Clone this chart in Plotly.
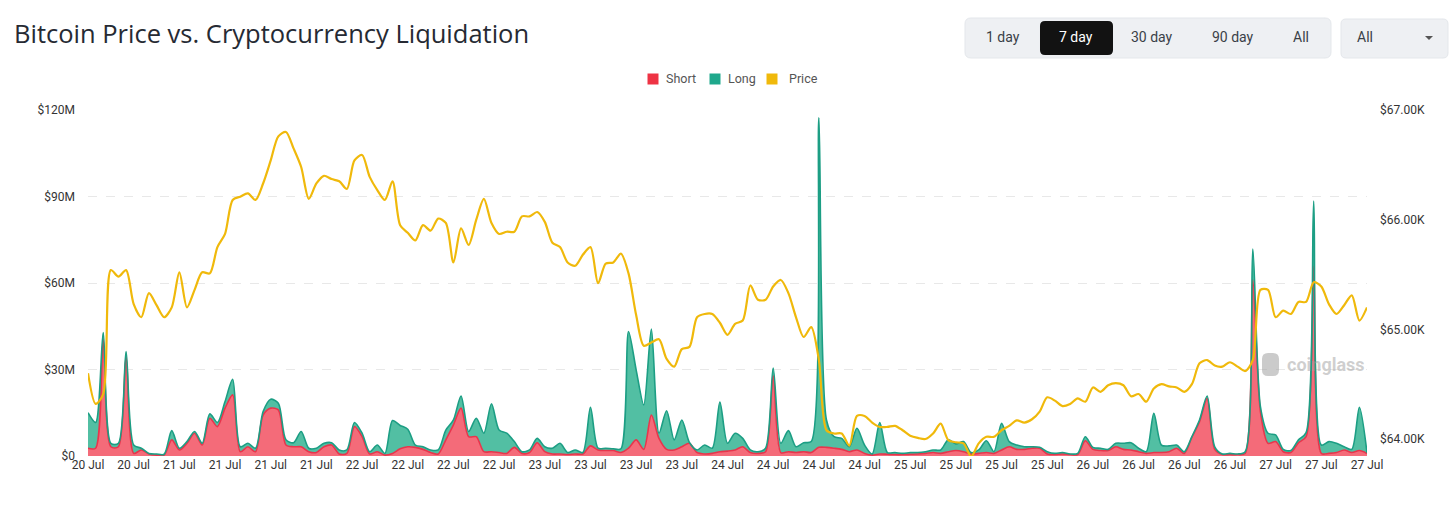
import plotly.graph_objects as go

# ---------------- data (hourly, 20 Jul 12:00 -> 27 Jul 12:00) ----------------
hours = list(range(169))

short_liq_musd = [
    2.7, 2.7, 40.3, 3.2, 3.2, 34.5, 0.9, 2.1, 0.7, 0.3,
    0.3, 5.6, 2.1, 4.4, 7.9, 3.8, 13.1, 10.2, 16.6, 21.2,
    1.5, 3.2, 1.5, 14.2, 16.6, 16.0, 3.8, 3.2, 3.2, 1.5,
    1.2, 3.2, 3.8, 0.7, 0.9, 10.2, 6.7, 0.7, 1.5, 0.3,
    0.9, 2.5, 3.2, 3.0, 2.3, 1.2, 0.7, 5.6, 10.8, 16.6,
    6.7, 6.7, 1.5, 1.5, 1.2, 0.9, 3.0, 0.9, 1.2, 4.6,
    1.5, 0.7, 0.7, 0.5, 0.7, 0.7, 3.5, 2.1, 1.9, 1.9,
    1.2, 2.7, 5.6, 2.3, 14.2, 6.1, 2.3, 2.1, 3.2, 4.4,
    1.2, 0.7, 0.9, 1.5, 1.7, 2.1, 3.2, 1.2, 0.9, 1.5,
    27.8, 1.2, 1.5, 1.2, 1.5, 1.2, 3.0, 3.0, 2.7, 2.3,
    1.5, 2.1, 0.9, 0.3, 0.7, 0.6, 0.5, 0.5, 0.6, 0.7,
    0.9, 1.2, 0.9, 1.5, 1.9, 1.5, 0.7, 0.9, 1.2, 0.9,
    2.1, 3.2, 2.3, 2.3, 2.7, 2.7, 0.7, 0.5, 0.7, 0.5,
    0.5, 5.3, 2.3, 1.9, 1.9, 3.2, 2.3, 2.1, 1.5, 0.9,
    1.2, 1.2, 1.5, 2.7, 0.9, 6.5, 11.9, 20.0, 2.3, 0.5,
    0.5, 0.5, 0.9, 61.1, 15.4, 4.4, 5.0, 1.5, 1.2, 4.6,
    6.7, 65.8, 0.9, 0.9, 1.2, 2.1, 1.2, 1.9, 0.9,
]

long_liq_musd = [
    12.3, 8.9, 2.5, 1.2, 1.2, 1.7, 2.9, 0.6, 0.2, 0.4,
    0.3, 3.2, 0.6, 0.6, 0.6, 0.6, 1.5, 1.4, 2.3, 5.4,
    1.7, 1.2, 1.2, 1.2, 3.1, 2.3, 1.8, 1.4, 5.3, 1.2,
    1.5, 1.2, 0.8, 1.4, 1.2, 1.4, 1.2, 0.8, 2.3, 0.6,
    11.4, 8.1, 6.1, 0.8, 0.9, 0.9, 1.4, 3.4, 1.7, 4.2,
    1.8, 6.4, 6.4, 16.6, 7.8, 7.0, 2.0, 0.6, 0.9, 1.5,
    1.7, 2.0, 3.7, 0.7, 1.4, 0.5, 13.4, 0.6, 0.8, 0.6,
    1.3, 40.5, 24.3, 15.4, 29.8, 1.8, 13.4, 3.5, 9.3, 0.3,
    0.9, 3.1, 1.8, 17.2, 2.7, 5.8, 2.9, 0.9, 0.6, 1.2,
    2.7, 3.2, 7.3, 2.0, 3.1, 3.8, 114.3, 9.5, 4.0, 3.8,
    1.7, 7.5, 2.9, 0.4, 10.9, 0.6, 0.7, 0.4, 0.6, 0.5,
    0.6, 0.9, 1.2, 4.1, 2.3, 3.5, 0.5, 1.2, 4.1, 0.6,
    9.2, 1.8, 1.5, 0.9, 0.5, 0.3, 0.8, 0.4, 0.5, 0.2,
    0.4, 1.4, 0.7, 0.8, 0.4, 1.2, 2.1, 2.5, 1.2, 0.6,
    13.6, 2.6, 2.0, 1.1, 0.6, 0.2, 0.6, 0.8, 0.9, 0.2,
    0.4, 0.2, 0.6, 10.7, 1.7, 3.5, 2.3, 0.8, 0.7, 1.0,
    1.4, 22.6, 2.9, 4.1, 3.2, 1.1, 1.1, 15.0, 0.2,
]

btc_price_k = [
    64.60, 64.32, 64.41, 65.54, 65.48, 65.54, 65.23, 65.11, 65.33, 65.22,
    65.11, 65.20, 65.52, 65.20, 65.36, 65.52, 65.51, 65.75, 65.87, 66.18,
    66.21, 66.24, 66.18, 66.33, 66.54, 66.76, 66.80, 66.65, 66.48, 66.19,
    66.33, 66.40, 66.37, 66.35, 66.28, 66.54, 66.59, 66.39, 66.27, 66.18,
    66.35, 65.95, 65.88, 65.81, 65.95, 65.90, 66.01, 65.97, 65.61, 65.92,
    65.77, 66.00, 66.19, 65.97, 65.87, 65.89, 65.89, 66.03, 66.03, 66.07,
    65.98, 65.79, 65.75, 65.61, 65.58, 65.68, 65.75, 65.42, 65.60, 65.61,
    65.69, 65.51, 65.13, 64.85, 64.88, 64.91, 64.73, 64.66, 64.82, 64.84,
    65.11, 65.14, 65.14, 65.06, 64.95, 65.05, 65.08, 65.40, 65.27, 65.27,
    65.39, 65.45, 65.33, 65.11, 64.93, 65.02, 64.72, 64.08, 64.05, 64.05,
    63.94, 64.21, 64.21, 64.15, 64.11, 64.11, 64.12, 64.08, 64.03, 64.01,
    64.00, 64.05, 64.14, 63.99, 63.97, 63.96, 63.84, 63.96, 64.02, 64.02,
    64.08, 64.12, 64.17, 64.15, 64.18, 64.25, 64.38, 64.35, 64.30, 64.32,
    64.37, 64.34, 64.47, 64.43, 64.49, 64.51, 64.49, 64.39, 64.41, 64.34,
    64.46, 64.50, 64.48, 64.47, 64.43, 64.50, 64.69, 64.72, 64.67, 64.66,
    64.70, 64.66, 64.62, 64.72, 65.36, 65.36, 65.11, 65.17, 65.14, 65.25,
    65.25, 65.43, 65.39, 65.23, 65.14, 65.22, 65.31, 65.08, 65.20,
]

x_tick_hours = list(range(0, 169, 6))
x_tick_labels = (["20 Jul"] * 2 + ["21 Jul"] * 4 + ["22 Jul"] * 4 + ["23 Jul"] * 4 +
                 ["24 Jul"] * 4 + ["25 Jul"] * 4 + ["26 Jul"] * 4 + ["27 Jul"] * 3)

left_tick_vals = [0, 30, 60, 90, 120]
left_tick_text = ["$0", "$30M", "$60M", "$90M", "$120M"]
right_tick_vals = [64, 65, 66, 67]
right_tick_text = ["$64.00K", "$65.00K", "$66.00K", "$67.00K"]

series_names = ["Short", "Long", "Price"]
range_buttons = ["1 day", "7 day", "30 day", "90 day", "All"]
selected_button = "7 day"

# ---------------- styling ----------------
W, H = 1456, 507
PL, PR, PT, PB = 88, 1367, 110, 456  # plot area in pixels
FONT = "Roboto"
SHORT_LINE, SHORT_FILL = "#e8354c", "#f46b79"
LONG_LINE, LONG_FILL = "#1c9e84", "#52bfa3"
PRICE_COLOR = "#f0b90b"
LEGEND_SWATCH = ["#ee3344", "#1fa88c", "#f0b90b"]
LEGEND_SQ_X = [653, 715, 772]


def pp(x, y):
    return (x - PL) / (PR - PL), (PB - y) / (PB - PT)


def rrect(x0, y0, x1, y1, r):
    def P(x, y):
        a, b = pp(x, y)
        return f"{a:.5f},{b:.5f}"
    return (f"M {P(x0 + r, y0)} L {P(x1 - r, y0)} Q {P(x1, y0)} {P(x1, y0 + r)} "
            f"L {P(x1, y1 - r)} Q {P(x1, y1)} {P(x1 - r, y1)} L {P(x0 + r, y1)} "
            f"Q {P(x0, y1)} {P(x0, y1 - r)} L {P(x0, y0 + r)} Q {P(x0, y0)} {P(x0 + r, y0)} Z")


fig = go.Figure()

fig.add_trace(go.Scatter(
    x=hours, y=short_liq_musd, name=series_names[0], stackgroup="liq", mode="lines",
    line=dict(color=SHORT_LINE, width=1.6, shape="spline", smoothing=0.8),
    fillcolor=SHORT_FILL, hoverinfo="skip"))
fig.add_trace(go.Scatter(
    x=hours, y=long_liq_musd, name=series_names[1], stackgroup="liq", mode="lines",
    line=dict(color=LONG_LINE, width=1.6, shape="spline", smoothing=0.8),
    fillcolor=LONG_FILL, hoverinfo="skip"))
fig.add_trace(go.Scatter(
    x=hours, y=btc_price_k, name=series_names[2], yaxis="y2", mode="lines",
    line=dict(color=PRICE_COLOR, width=2.2, shape="spline", smoothing=0.8),
    hoverinfo="skip"))

shapes = []
annotations = []

# legend (drawn manually for exact placement)
for nm, col, sx in zip(series_names, LEGEND_SWATCH, LEGEND_SQ_X):
    x0, y0 = pp(sx - 5.5, 84.5)
    x1, y1 = pp(sx + 5.5, 73.5)
    shapes.append(dict(type="rect", xref="paper", yref="paper", x0=x0, y0=y0, x1=x1, y1=y1,
                       fillcolor=col, line=dict(width=0)))
    tx_, ty_ = pp(sx + 11 + (4 if nm == "Price" else 0), 79)
    annotations.append(dict(text=nm, x=tx_, y=ty_, xref="paper", yref="paper", showarrow=False,
                            xanchor="left", yanchor="middle",
                            font=dict(family=FONT, size=12.5, color="#555")))

# range selector + dropdown
shapes.append(dict(type="path", xref="paper", yref="paper", path=rrect(965, 18, 1331, 58, 6),
                   fillcolor="#eef0f3", line=dict(color="#e4e7eb", width=1), layer="above"))
shapes.append(dict(type="path", xref="paper", yref="paper", path=rrect(1040, 21, 1113, 55, 5),
                   fillcolor="#121212", line=dict(width=0), layer="above"))
shapes.append(dict(type="path", xref="paper", yref="paper", path=rrect(1341, 19, 1448, 58, 5),
                   fillcolor="#eef0f3", line=dict(color="#e4e7eb", width=1), layer="above"))
a, b = pp(1425, 36); c, d = pp(1433, 36); e, f = pp(1429, 40)
shapes.append(dict(type="path", xref="paper", yref="paper",
                   path=f"M {a},{b} L {c},{d} L {e},{f} Z", fillcolor="#555", line=dict(width=0)))
# watermark logo blob
shapes.append(dict(type="path", xref="paper", yref="paper", path=rrect(1262, 353, 1279, 376, 6),
                   fillcolor="rgba(160,160,160,0.55)", line=dict(width=0), layer="above"))

tx, ty = pp(12, 33)
annotations.append(dict(text="Bitcoin Price vs. Cryptocurrency Liquidation", x=tx, y=ty,
                        xref="paper", yref="paper", xanchor="left", yanchor="middle", showarrow=False,
                        font=dict(family="Open Sans", size=25.5, color="#262a33")))
for lbl, cx in zip(range_buttons, [1003, 1076, 1152, 1233, 1301]):
    x_, y_ = pp(cx, 37)
    annotations.append(dict(text=lbl, x=x_, y=y_, xref="paper", yref="paper", showarrow=False,
                            xanchor="center", yanchor="middle",
                            font=dict(family=FONT, size=14,
                                      color="#ffffff" if lbl == selected_button else "#3a3f47")))
x_, y_ = pp(1355, 37)
annotations.append(dict(text="All", x=x_, y=y_, xref="paper", yref="paper", showarrow=False,
                        xanchor="left", yanchor="middle", font=dict(family=FONT, size=14, color="#3a3f47")))
x_, y_ = pp(1285, 364)
annotations.append(dict(text="<b>coinglass</b>", x=x_, y=y_, xref="paper", yref="paper", showarrow=False,
                        xanchor="left", yanchor="middle", font=dict(family=FONT, size=18,
                                                                     color="rgba(160,160,160,0.5)")))

fig.update_layout(
    width=W, height=H,
    margin=dict(l=PL, r=W - PR, t=PT, b=H - PB),
    paper_bgcolor="white", plot_bgcolor="white",
    font=dict(family=FONT, size=12, color="#333"),
    showlegend=False,
    xaxis=dict(range=[0, 168], tickvals=x_tick_hours, ticktext=x_tick_labels, showgrid=False,
               zeroline=False, showline=False, ticks="", tickfont=dict(size=12, color="#333")),
    yaxis=dict(range=[0, 120], tickvals=left_tick_vals, ticktext=left_tick_text, showgrid=True,
               gridcolor="#e8e8e8", griddash="dash", gridwidth=1, zeroline=False, ticks="",
               ticklabelstandoff=12, tickfont=dict(size=12, color="#333")),
    yaxis2=dict(range=[63.845, 67.0], tickvals=right_tick_vals, ticktext=right_tick_text,
                overlaying="y", side="right", showgrid=False, zeroline=False, ticks="",
                ticklabelstandoff=12, tickfont=dict(size=12, color="#333")),
    shapes=shapes, annotations=annotations,
)

fig.write_html("out.html", config={"displayModeBar": False},
               post_script="document.body.style.margin='0px';")
